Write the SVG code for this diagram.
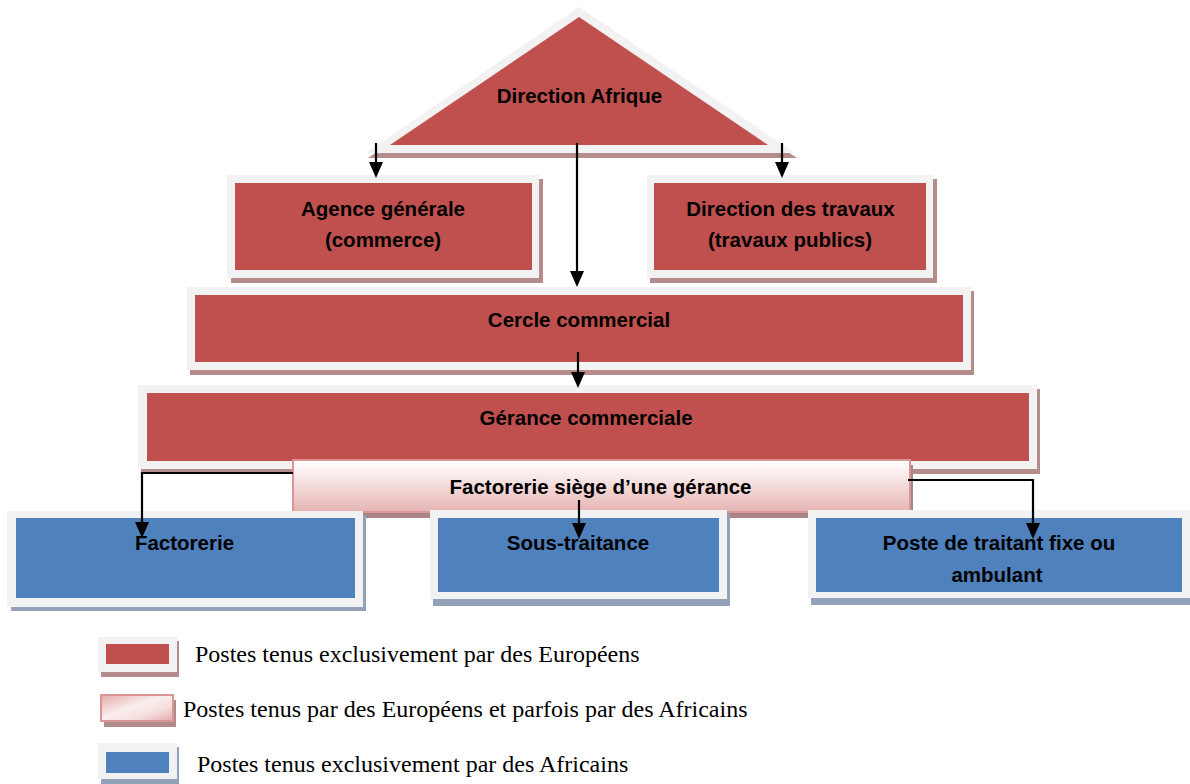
<svg xmlns="http://www.w3.org/2000/svg" width="1190" height="784" viewBox="0 0 1190 784">
<style>
.bg{fill:#ffffff}
.frame{fill:#f2f2f2}
.rsh{fill:#b38c8b}
.bsh{fill:#93a2b8}
.red{fill:#c0504d}
.blue{fill:#4f81bd}
.pink{fill:url(#pinkGrad);stroke:#d99694;stroke-width:2}
.pinkL{fill:url(#pinkGradL);stroke:#d99694;stroke-width:2}
.lbl{font-family:"Liberation Sans",Arial,sans-serif;font-weight:bold;font-size:20.5px;fill:#000;text-anchor:middle}
.leg{font-family:"Liberation Serif","Times New Roman",serif;font-size:24px;fill:#000}
.conn{fill:none;stroke:#000;stroke-width:2.2}
</style>
<defs>
<linearGradient id="pinkGrad" x1="0" y1="0" x2="0" y2="1">
<stop offset="0" stop-color="#ffffff"/>
<stop offset="0.35" stop-color="#f8e6e6"/>
<stop offset="1" stop-color="#e6b3b3"/>
</linearGradient>
<linearGradient id="pinkGradL" x1="0" y1="0" x2="1" y2="1">
<stop offset="0" stop-color="#e3a9a8"/>
<stop offset="0.45" stop-color="#fbeeee"/>
<stop offset="0.7" stop-color="#f6dede"/>
<stop offset="1" stop-color="#e3a9a8"/>
</linearGradient>
<marker id="arr" markerUnits="userSpaceOnUse" markerWidth="16" markerHeight="14" viewBox="0 0 16 14" refX="12" refY="7" orient="auto">
<path d="M0,0 L16,7 L0,14 z" fill="#000"/>
</marker>
</defs>
<rect class="bg" x="0" y="0" width="1190" height="784"/>

<g id="direction-afrique">
<polygon class="rsh" points="580,12 368,158 797,158"/>
<polygon class="frame" points="579,7 366,153 795,153"/>
<polygon class="red" points="579,17 390,145 768,145"/>
<text class="lbl" x="579.5" y="103">Direction Afrique</text>
</g>

<g id="agence-generale">
<rect class="rsh" x="231" y="179" width="312" height="104"/>
<rect class="frame" x="227" y="175" width="312" height="103"/>
<rect class="red" x="235" y="183" width="297" height="87"/>
<text class="lbl" x="383" y="216">Agence générale</text>
<text class="lbl" x="383" y="247">(commerce)</text>
</g>

<g id="direction-travaux">
<rect class="rsh" x="650" y="179" width="287" height="104"/>
<rect class="frame" x="647" y="175" width="286" height="103"/>
<rect class="red" x="654" y="183" width="272" height="87"/>
<text class="lbl" x="790.5" y="216">Direction des travaux</text>
<text class="lbl" x="790" y="247">(travaux publics)</text>
</g>

<g id="cercle-commercial">
<rect class="rsh" x="190" y="291" width="784" height="84"/>
<rect class="frame" x="187" y="287" width="784" height="83"/>
<rect class="red" x="195" y="295" width="768" height="67"/>
<text class="lbl" x="579" y="327">Cercle commercial</text>
</g>

<g id="gerance-commerciale">
<rect class="rsh" x="141" y="389" width="899" height="85"/>
<rect class="frame" x="138" y="385" width="899" height="84"/>
<rect class="red" x="147" y="393" width="882" height="68"/>
<text class="lbl" x="586" y="425">Gérance commerciale</text>
</g>

<g id="factorerie-siege">
<rect x="296" y="465" width="617" height="53" fill="#a88584"/>
<rect class="pink" x="293" y="460" width="617" height="52"/>
<text class="lbl" x="600.5" y="494">Factorerie siège d’une gérance</text>
</g>

<g id="factorerie">
<rect class="bsh" x="11" y="515" width="355" height="96"/>
<rect class="frame" x="7" y="511" width="356" height="96"/>
<rect class="blue" x="16" y="518" width="339" height="80"/>
<text class="lbl" x="184.5" y="550">Factorerie</text>
</g>

<g id="sous-traitance">
<rect class="bsh" x="433" y="514" width="297" height="92"/>
<rect class="frame" x="430" y="510" width="297" height="89"/>
<rect class="blue" x="438" y="518" width="281" height="74"/>
<text class="lbl" x="578" y="550">Sous-traitance</text>
</g>

<g id="poste-traitant">
<rect class="bsh" x="811" y="514" width="379" height="91"/>
<rect class="frame" x="808" y="510" width="382" height="88"/>
<rect class="blue" x="816" y="518" width="366" height="74"/>
<text class="lbl" x="999" y="550">Poste de traitant fixe ou</text>
<text class="lbl" x="997" y="582">ambulant</text>
</g>

<g id="connectors">
<path class="conn" d="M376,143 V174" marker-end="url(#arr)"/>
<path class="conn" d="M782,143 V174" marker-end="url(#arr)"/>
<path class="conn" d="M577,143 V283" marker-end="url(#arr)"/>
<path class="conn" d="M578,352 V384" marker-end="url(#arr)"/>
<path class="conn" d="M293,473 H142 V534" marker-end="url(#arr)"/>
<path class="conn" d="M579,500 V535" marker-end="url(#arr)"/>
<path class="conn" d="M908,480 H1033 V535" marker-end="url(#arr)"/>
</g>

<g id="legend">
<g id="legend-europeens">
<rect class="rsh" x="101" y="641" width="78" height="36"/>
<rect class="frame" x="98" y="637" width="79" height="35"/>
<rect class="red" x="106" y="644" width="63" height="20"/>
<text class="leg" x="195" y="662">Postes tenus exclusivement par des Européens</text>
</g>
<g id="legend-mixte">
<rect x="104" y="700" width="72" height="27" fill="#b08c8b"/>
<rect class="pinkL" x="101" y="695" width="72" height="26"/>
<text class="leg" x="183" y="717">Postes tenus par des Européens et parfois par des Africains</text>
</g>
<g id="legend-africains">
<rect class="bsh" x="101" y="747" width="78" height="37"/>
<rect class="frame" x="98" y="743" width="79" height="36"/>
<rect class="blue" x="106" y="752" width="63" height="21"/>
<text class="leg" x="197" y="772">Postes tenus exclusivement par des Africains</text>
</g>
</g>
</svg>
